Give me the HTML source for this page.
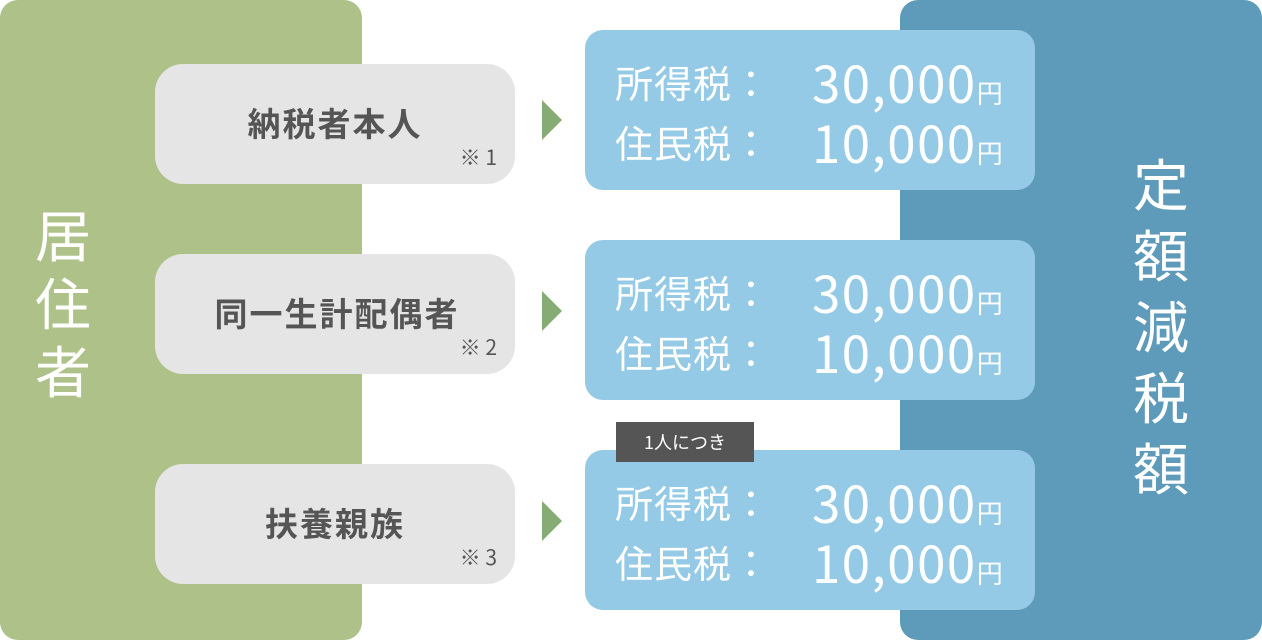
<!DOCTYPE html>
<html><head><meta charset="utf-8"><style>
body{margin:0;width:1262px;height:640px;position:relative;background:#fff;font-family:"Liberation Sans","Noto Sans CJK JP",sans-serif;overflow:hidden}
.a{position:absolute}
.green{left:0;top:0;width:362px;height:640px;background:#adc188;border-radius:18px}
.dark{left:900px;top:0;width:362px;height:640px;background:#5e9ab9;border-radius:18px}
.vt{color:#fff;font-size:56px;width:70px;text-align:center;font-family:"Noto Sans CJK JP",sans-serif}
.gray{left:155px;width:360px;height:120px;background:#e5e5e5;border-radius:28px}
.gl{position:absolute;left:0;right:0;top:38px;text-align:center;font-size:33px;font-weight:bold;color:#555;font-family:"Noto Sans CJK JP",sans-serif;letter-spacing:2px;line-height:40px}
.note{position:absolute;right:18px;top:80px;font-size:21px;color:#555;line-height:26px;font-family:"Noto Sans CJK JP",sans-serif}
.arr{left:542px;width:0;height:0;border-top:20px solid transparent;border-bottom:20px solid transparent;border-left:20px solid #86ab73}
.lb{left:585px;width:450px;height:160px;background:#94cae6;border-radius:18px;color:#fff;font-family:"Noto Sans CJK JP",sans-serif}
.row{position:absolute;left:30px;height:60px;width:420px}
.k{position:absolute;left:0;top:0;font-size:38px;line-height:60px;letter-spacing:1px}
.v{position:absolute;left:197px;top:-1px;font-size:51px;line-height:60px;letter-spacing:1.5px;font-family:"Noto Sans CJK JP",sans-serif}
.v span{font-size:26px;letter-spacing:0}
.tag{left:616px;top:422px;width:138px;height:40px;background:#555;color:#fff;font-size:18px;line-height:40px;text-align:center;font-family:"Noto Sans CJK JP",sans-serif}
</style></head><body>
<div class="a green"></div>
<div class="a dark"></div>
<div class="a vt" style="left:28px;top:200px;line-height:68px">居<br>住<br>者</div>
<div class="a vt" style="left:1126px;top:147px;line-height:71px">定<br>額<br>減<br>税<br>額</div>

<div class="a gray" style="top:64px"><div class="gl">納税者本人</div><div class="note">※ 1</div></div>
<div class="a gray" style="top:254px"><div class="gl" style="left:4px">同一生計配偶者</div><div class="note">※ 2</div></div>
<div class="a gray" style="top:464px"><div class="gl">扶養親族</div><div class="note">※ 3</div></div>

<div class="a arr" style="top:100px"></div>
<div class="a arr" style="top:291px"></div>
<div class="a arr" style="top:501px"></div>

<div class="a lb" style="top:30px">
<div class="row" style="top:22px"><div class="k">所得税：</div><div class="v">30,000<span>円</span></div></div>
<div class="row" style="top:82px"><div class="k">住民税：</div><div class="v">10,000<span>円</span></div></div>
</div>
<div class="a lb" style="top:240px">
<div class="row" style="top:22px"><div class="k">所得税：</div><div class="v">30,000<span>円</span></div></div>
<div class="row" style="top:82px"><div class="k">住民税：</div><div class="v">10,000<span>円</span></div></div>
</div>
<div class="a lb" style="top:450px">
<div class="row" style="top:22px"><div class="k">所得税：</div><div class="v">30,000<span>円</span></div></div>
<div class="row" style="top:82px"><div class="k">住民税：</div><div class="v">10,000<span>円</span></div></div>
</div>
<div class="a tag">1人につき</div>
</body></html>
